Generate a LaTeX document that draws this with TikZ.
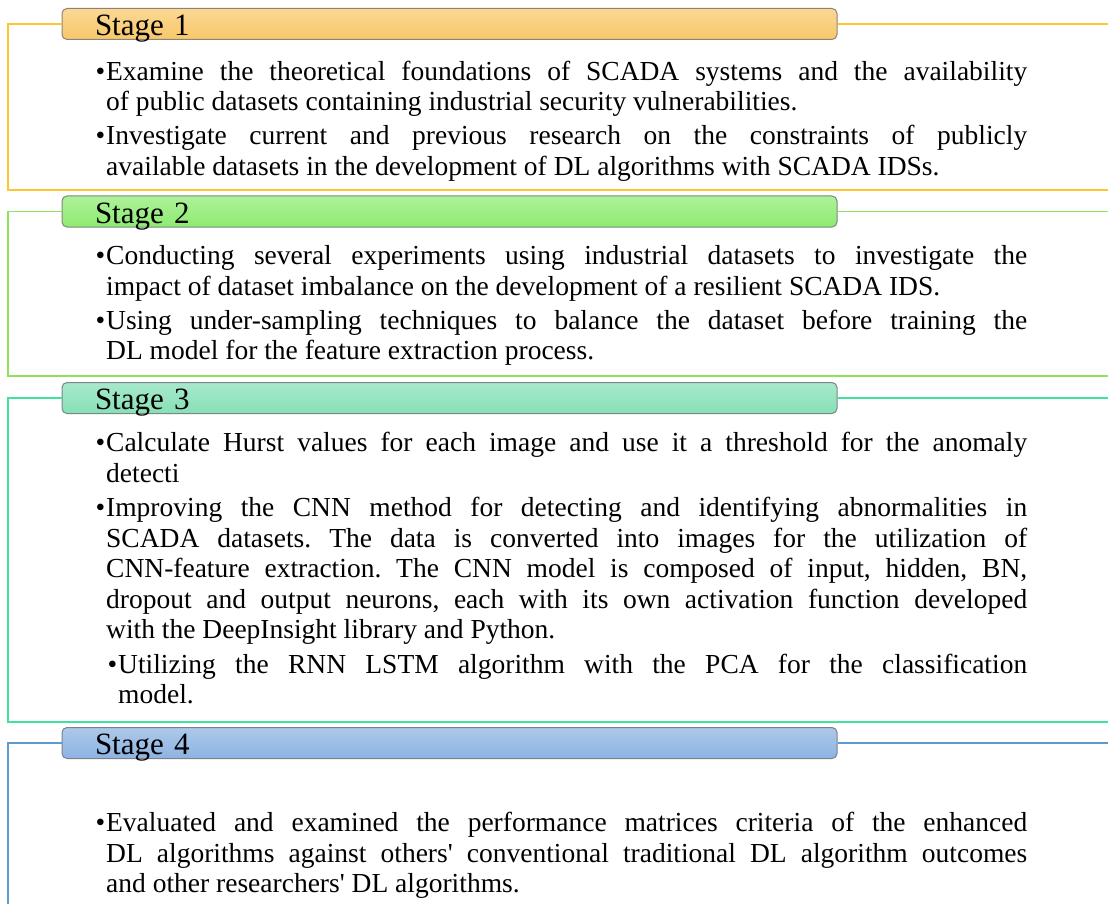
\documentclass[tikz,border=0pt]{standalone}
\usepackage{fontspec}
\setmainfont{Liberation Serif}
\usepackage{xcolor}
\usepackage{tikz}
\usetikzlibrary{positioning}
\definecolor{tabone}{HTML}{F8C86A}
\definecolor{tabtwo}{HTML}{8EEB72}
\definecolor{tabthree}{HTML}{86E0B6}
\definecolor{tabfour}{HTML}{8DB3E2}
\definecolor{lineone}{HTML}{FFC52E}
\definecolor{linetwo}{HTML}{8FE35C}
\definecolor{linethree}{HTML}{3FE39C}
\definecolor{linefour}{HTML}{5B9BD5}
\newcommand{\stagebullet}{\par\noindent\llap{\textbullet\hspace{1pt}}}
\newcommand{\nextbullet}{\par\vspace{3.5pt}\stagebullet}
\tikzset{
  stagetab/.style={draw=#1!25!black!60, top color=#1!72, bottom color=#1, rounded corners=5pt,
    line width=1pt, minimum width=775pt, minimum height=31pt, inner xsep=33pt, inner ysep=0pt,
    text width=709pt, align=left, text height=26.5pt, text depth=3.5pt, font=\fontsize{31}{34}\selectfont},
  stageframe/.style={draw=#1, line width=1.3pt},
  stagetext/.style={anchor=base west, inner sep=0pt, text width=921pt, align=justify,
    font=\fontsize{27.5}{30.5}\selectfont,
    execute at begin node={\frenchspacing\hyphenpenalty=10000\tolerance=9999}}
}

\begin{document}
\begin{tikzpicture}[x=1pt, y=-1pt]
\useasboundingbox (0,0) rectangle (1108,904);

\node[stagetab=tabone] (tab1) at (449.5,24) {Stage 1};
\draw[stageframe=lineone] (tab1.west) -- (8,24) -- (8,190) -- (1108,190);
\draw[stageframe=lineone] (tab1.east) -- (1108,24);
\node[stagetext] (txt1) at (106,50) {\stagebullet Examine the theoretical foundations of SCADA systems and the availability\linebreak of public datasets containing industrial security vulnerabilities.
  \nextbullet Investigate current and previous research on the constraints of publicly\linebreak available datasets in the development of DL algorithms with SCADA IDSs.};

\node[stagetab=tabtwo] (tab2) at (449.5,211.5) {Stage 2};
\draw[stageframe=linetwo] (tab2.west) -- (8,211.5) -- (8,376) -- (1108,376);
\draw[stageframe=linetwo] (tab2.east) -- (1108,211.5);
\node[stagetext] (txt2) at (106,234) {\stagebullet Conducting several experiments using industrial datasets to investigate the\linebreak impact of dataset imbalance on the development of a resilient SCADA IDS.
  \nextbullet Using under-sampling techniques to balance the dataset before training the\linebreak DL model for the feature extraction process.};

\node[stagetab=tabthree] (tab3) at (449.5,398) {Stage 3};
\draw[stageframe=linethree] (tab3.west) -- (8,398) -- (8,722) -- (1108,722);
\draw[stageframe=linethree] (tab3.east) -- (1108,398);
\node[stagetext] (txt3) at (106,421) {\stagebullet Calculate Hurst values for each image and use it a threshold for the anomaly\linebreak detecti
  \par\vspace{4pt}\stagebullet Improving the CNN method for detecting and identifying abnormalities in\linebreak SCADA datasets. The data is converted into images for the utilization of\linebreak CNN-feature extraction. The CNN model is composed of input, hidden, BN,\linebreak dropout and output neurons, each with its own activation function developed\linebreak with the DeepInsight library and Python.
  \par\vspace{4pt}{\leftskip=12pt\stagebullet Utilizing the RNN LSTM algorithm with the PCA for the classification\linebreak model.\par}};

\node[stagetab=tabfour] (tab4) at (449.5,743) {Stage 4};
\draw[stageframe=linefour] (tab4.west) -- (8,743) -- (8,904);
\draw[stageframe=linefour] (tab4.east) -- (1108,743);
\node[stagetext] (txt4) at (106,801) {\stagebullet Evaluated and examined the performance matrices criteria of the enhanced\linebreak DL algorithms against others\textquotesingle{} conventional traditional DL algorithm outcomes\linebreak and other researchers\textquotesingle{} DL algorithms.};
\end{tikzpicture}
\end{document}
